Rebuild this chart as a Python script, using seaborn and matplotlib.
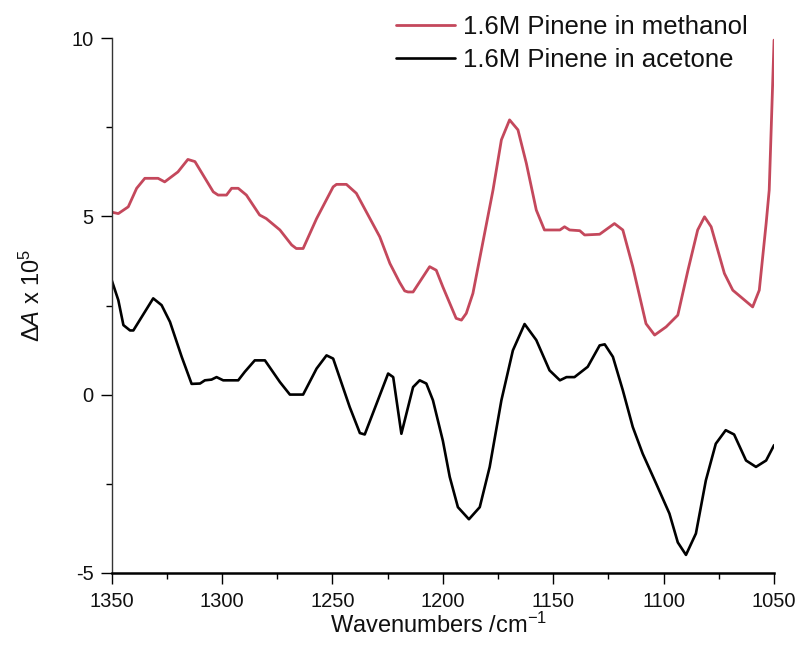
import matplotlib
matplotlib.use("Agg")
import matplotlib.pyplot as plt
import seaborn as sns
import pandas as pd

# ---- data ----
methanol_label = "1.6M Pinene in methanol"
acetone_label = "1.6M Pinene in acetone"

methanol_wn = [1350, 1347, 1342.5, 1338.7, 1335, 1329, 1326, 1320, 1315.5, 1312.3,
               1304, 1301.8, 1298, 1295.7, 1292.7, 1289, 1283, 1280, 1273.8, 1268.5,
               1266.4, 1263.3, 1257.2, 1249.7, 1248.2, 1243.7, 1239.2, 1228.6, 1224,
               1219.6, 1217.3, 1215.8, 1213.5, 1206, 1203, 1200, 1194, 1191.6, 1189.4,
               1186.4, 1182, 1177.3, 1173.5, 1169.8, 1166, 1162.2, 1157.7, 1154, 1147,
               1144.9, 1142.6, 1138, 1135.8, 1129, 1122.3, 1118.5, 1114, 1108, 1104.1,
               1098.9, 1093.6, 1089, 1084.6, 1081.5, 1078.5, 1072.5, 1068.7, 1059.7,
               1056.7, 1053.6, 1052.2, 1050]
methanol_dA = [5.12, 5.08, 5.27, 5.79, 6.07, 6.07, 5.97, 6.25, 6.60, 6.54,
               5.69, 5.60, 5.60, 5.79, 5.79, 5.60, 5.04, 4.94, 4.62, 4.20,
               4.10, 4.10, 4.94, 5.83, 5.90, 5.90, 5.65, 4.43, 3.68,
               3.15, 2.91, 2.88, 2.88, 3.59, 3.49, 3.02, 2.14, 2.09, 2.28,
               2.84, 4.24, 5.74, 7.15, 7.71, 7.43, 6.49, 5.18, 4.62, 4.62,
               4.71, 4.62, 4.60, 4.48, 4.50, 4.80, 4.62, 3.59, 1.99, 1.67,
               1.90, 2.23, 3.49, 4.62, 4.99, 4.71, 3.40, 2.93, 2.46,
               2.93, 4.80, 5.74, 9.95]

acetone_wn = [1350, 1347, 1344.7, 1341.7, 1340.2, 1331.2, 1327.4, 1323.6, 1318.3, 1313.8,
              1310, 1307.8, 1304.8, 1302.5, 1299.5, 1292.7, 1289.7, 1285.2, 1280.6, 1273.8,
              1269.3, 1263.3, 1257.2, 1252.7, 1249.7, 1242.2, 1237.6, 1235.4, 1230, 1224.8,
              1222.5, 1218.8, 1215, 1213.5, 1210.5, 1207.5, 1204.5, 1200, 1196.9, 1193.2,
              1188.2, 1183.3, 1178.8, 1173.5, 1168.3, 1163, 1157.7, 1151.7, 1147,
              1144, 1140.4, 1134.4, 1129, 1126.7, 1123, 1118.5, 1114, 1109.5, 1103.4,
              1097.4, 1093.6, 1089.9, 1085.4, 1080.9, 1076.4, 1071.9, 1068.1, 1062.7, 1058.2,
              1053.6, 1050]
acetone_dA = [3.21, 2.65, 1.95, 1.80, 1.80, 2.70, 2.51, 2.04, 1.06, 0.30,
              0.31, 0.40, 0.42, 0.49, 0.40, 0.40, 0.64, 0.96, 0.96, 0.35,
              0.00, 0.00, 0.73, 1.10, 1.01, -0.35, -1.08, -1.12, -0.25, 0.59,
              0.49, -1.10, -0.16, 0.21, 0.40, 0.31, -0.16, -1.30, -2.31, -3.16,
              -3.50, -3.16, -2.03, -0.16, 1.24, 1.98, 1.53, 0.68, 0.40,
              0.49, 0.49, 0.78, 1.38, 1.41, 1.06, 0.12, -0.91, -1.66, -2.50,
              -3.34, -4.15, -4.50, -3.90, -2.41, -1.38, -1.00, -1.12, -1.85, -2.03,
              -1.85, -1.42]

x_ticks = [1350, 1300, 1250, 1200, 1150, 1100, 1050]
y_ticks = [-5, 0, 5, 10]

# ---- style ----
sns.set_theme(style="ticks")
plt.rcParams["font.family"] = ["Liberation Sans", "DejaVu Sans"]
plt.rcParams["mathtext.fontset"] = "custom"
plt.rcParams["mathtext.rm"] = "Liberation Sans"
plt.rcParams["mathtext.it"] = "Liberation Sans:italic"
plt.rcParams["mathtext.default"] = "regular"
plt.rcParams["axes.unicode_minus"] = False

red = "#c4485c"

fig = plt.figure(figsize=(7.99, 6.57), dpi=100)
ax = fig.add_axes([0.1398, 0.1283, 0.829, 0.8134])

df_m = pd.DataFrame({"wn": methanol_wn, "dA": methanol_dA})
df_a = pd.DataFrame({"wn": acetone_wn, "dA": acetone_dA})

sns.lineplot(data=df_m, x="wn", y="dA", ax=ax, color=red, lw=2.0,
             sort=False, estimator=None, label=methanol_label,
             solid_joinstyle="round", solid_capstyle="round")
sns.lineplot(data=df_a, x="wn", y="dA", ax=ax, color="black", lw=1.9,
             sort=False, estimator=None, label=acetone_label,
             solid_joinstyle="round", solid_capstyle="round")

ax.set_xlim(1350, 1050)
ax.set_ylim(-5, 10)
ax.set_xticks(x_ticks)
ax.set_yticks(y_ticks)
ax.set_xticks([1325, 1275, 1225, 1175, 1125, 1075], minor=True)
ax.set_yticks([-2.5, 2.5, 7.5], minor=True)
ax.tick_params(axis="both", which="major", direction="out", length=8, width=1.0,
               labelsize=14.5, color="black", labelcolor="#111111")
ax.tick_params(axis="x", which="major", pad=6)
ax.tick_params(axis="y", which="major", pad=5)
ax.tick_params(axis="both", which="minor", direction="out", length=4, width=1.0, color="black")

for s in ["top", "right"]:
    ax.spines[s].set_visible(False)
ax.spines["left"].set_linewidth(1.0)
ax.spines["left"].set_color("#333333")
ax.spines["bottom"].set_linewidth(1.8)
ax.spines["bottom"].set_color("black")

ax.set_xlabel(r"Wavenumbers /cm$^{-1}$", fontsize=17, color="#111111")
ax.set_ylabel(r"$\Delta\mathit{A}$ x 10$^{5}$", fontsize=17, color="#111111")
ax.xaxis.set_label_coords(0.494, -0.075)
ax.yaxis.set_label_coords(-0.101, 0.52)

leg = ax.legend(loc="upper left", bbox_to_anchor=(396 / 799, 1 - 15 / 657),
                bbox_transform=fig.transFigure, frameon=False, fontsize=18.5,
                handlelength=2.3, handletextpad=0.32, labelspacing=0.36,
                borderpad=0, borderaxespad=0)
for t in leg.get_texts():
    t.set_color("#111111")

fig.savefig("out.png", dpi=100)
